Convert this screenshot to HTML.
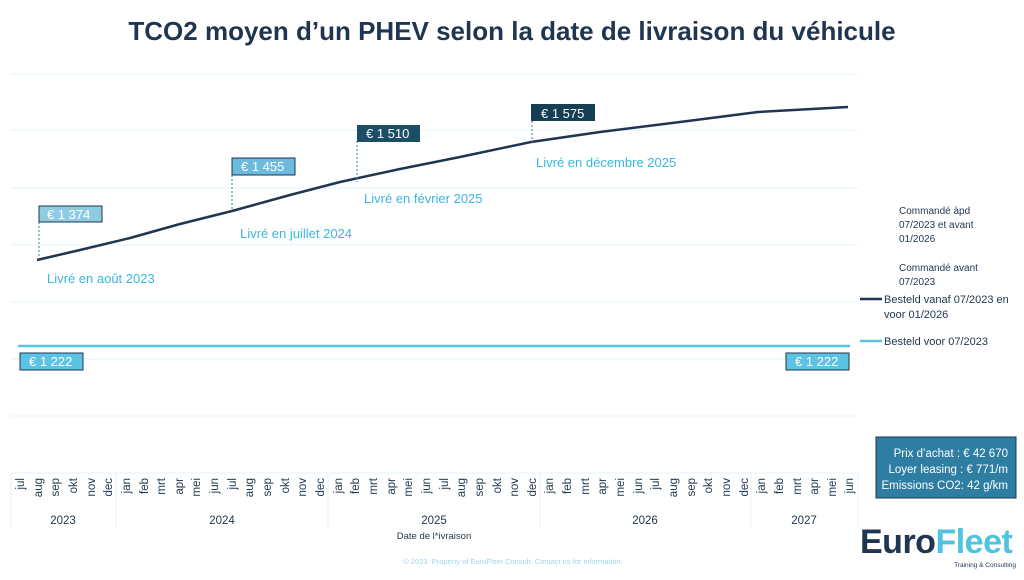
<!DOCTYPE html>
<html><head><meta charset="utf-8"><style>
body{margin:0;background:#fff;width:1024px;height:575px;overflow:hidden;font-family:"Liberation Sans",sans-serif}
</style></head><body>
<svg width="1024" height="575" viewBox="0 0 1024 575" font-family="Liberation Sans, sans-serif">
<text x="512" y="40" text-anchor="middle" font-size="26" font-weight="bold" fill="#1f3550">TCO2 moyen d’un PHEV selon la date de livraison du véhicule</text>
<g stroke="#e6f3fa" stroke-width="1">
<line x1="11" y1="74" x2="858" y2="74"/><line x1="11" y1="130" x2="858" y2="130"/><line x1="11" y1="188" x2="858" y2="188"/><line x1="11" y1="245" x2="858" y2="245"/><line x1="11" y1="302" x2="858" y2="302"/><line x1="11" y1="359" x2="858" y2="359"/><line x1="11" y1="416" x2="858" y2="416"/>
<line x1="11" y1="473" x2="858" y2="473"/>
<line x1="11" y1="473" x2="11" y2="527"/><line x1="116" y1="473" x2="116" y2="527"/><line x1="328" y1="473" x2="328" y2="527"/><line x1="540" y1="473" x2="540" y2="527"/><line x1="751" y1="473" x2="751" y2="527"/><line x1="858" y1="473" x2="858" y2="527"/>
</g>
<line x1="18" y1="346" x2="850" y2="346" stroke="#5bc3e3" stroke-width="2.5"/>
<polyline points="37,260 80,250 130,238 180,224 232,211 290,195 340,182 400,169 460,157 531,142 600,132 680,122 758,112 848,107" fill="none" stroke="#1f3550" stroke-width="2.5"/>
<g stroke="#3a7fa0" stroke-dasharray="2,2" stroke-width="1"><line x1="39" y1="222" x2="39" y2="258"/><line x1="232" y1="175" x2="232" y2="211"/><line x1="357" y1="141" x2="357" y2="182"/><line x1="532" y1="121" x2="532" y2="142"/></g>
<g font-size="13" fill="#fff">
<rect x="39" y="206" width="63" height="16" fill="#8fcbe3" stroke="#1f3550"/><text x="47" y="219">€ 1 374</text>
<rect x="232" y="158" width="63" height="17" fill="#6bbcdc" stroke="#1f3550"/><text x="241" y="171">€ 1 455</text>
<rect x="357" y="125" width="63" height="17" fill="#1c4e68"/><text x="366" y="138">€ 1 510</text>
<rect x="531" y="104" width="64" height="17" fill="#163f55"/><text x="541" y="118">€ 1 575</text>
<rect x="20" y="353" width="63" height="17" fill="#5bc3e3" stroke="#1f3550"/><text x="29" y="366">€ 1 222</text>
<rect x="786" y="353" width="63" height="17" fill="#5bc3e3" stroke="#1f3550"/><text x="795" y="366">€ 1 222</text>
</g>
<g font-size="13" fill="#3bb6dd">
<text x="47" y="283">Livré en août 2023</text>
<text x="240" y="238">Livré en juillet 2024</text>
<text x="364" y="203">Livré en février 2025</text>
<text x="536" y="167">Livré en décembre 2025</text>
</g>
<g font-size="10" fill="#1f3550">
<text x="899" y="214">Commandé àpd</text><text x="899" y="228">07/2023 et avant</text><text x="899" y="242">01/2026</text>
<text x="899" y="271">Commandé avant</text><text x="899" y="285">07/2023</text>
</g>
<line x1="860" y1="299" x2="882" y2="299" stroke="#1f3550" stroke-width="2.5"/>
<line x1="860" y1="341" x2="882" y2="341" stroke="#5bc3e3" stroke-width="2.5"/>
<g font-size="11" fill="#1f3550"><text x="884" y="303">Besteld vanaf 07/2023 en</text><text x="884" y="318">voor 01/2026</text><text x="884" y="345">Besteld voor 07/2023</text></g>
<rect x="876" y="437" width="140" height="61" fill="#2e7ea3" stroke="#1f3550"/>
<g font-size="11.5" fill="#fff" text-anchor="end"><text x="1008" y="457">Prix d’achat : € 42 670</text><text x="1008" y="473">Loyer leasing : € 771/m</text><text x="1008" y="489">Emissions CO2: 42 g/km</text></g>
<g font-size="11.5" fill="#1f3550" text-anchor="end">
<text transform="translate(24,478) rotate(-90)">jul</text>
<text transform="translate(42,478) rotate(-90)">aug</text>
<text transform="translate(59,478) rotate(-90)">sep</text>
<text transform="translate(77,478) rotate(-90)">okt</text>
<text transform="translate(95,478) rotate(-90)">nov</text>
<text transform="translate(112,478) rotate(-90)">dec</text>
<text transform="translate(130,478) rotate(-90)">jan</text>
<text transform="translate(148,478) rotate(-90)">feb</text>
<text transform="translate(165,478) rotate(-90)">mrt</text>
<text transform="translate(183,478) rotate(-90)">apr</text>
<text transform="translate(200,478) rotate(-90)">mei</text>
<text transform="translate(218,478) rotate(-90)">jun</text>
<text transform="translate(236,478) rotate(-90)">jul</text>
<text transform="translate(253,478) rotate(-90)">aug</text>
<text transform="translate(271,478) rotate(-90)">sep</text>
<text transform="translate(289,478) rotate(-90)">okt</text>
<text transform="translate(306,478) rotate(-90)">nov</text>
<text transform="translate(324,478) rotate(-90)">dec</text>
<text transform="translate(342,478) rotate(-90)">jan</text>
<text transform="translate(359,478) rotate(-90)">feb</text>
<text transform="translate(377,478) rotate(-90)">mrt</text>
<text transform="translate(395,478) rotate(-90)">apr</text>
<text transform="translate(412,478) rotate(-90)">mei</text>
<text transform="translate(430,478) rotate(-90)">jun</text>
<text transform="translate(448,478) rotate(-90)">jul</text>
<text transform="translate(465,478) rotate(-90)">aug</text>
<text transform="translate(483,478) rotate(-90)">sep</text>
<text transform="translate(501,478) rotate(-90)">okt</text>
<text transform="translate(518,478) rotate(-90)">nov</text>
<text transform="translate(536,478) rotate(-90)">dec</text>
<text transform="translate(553,478) rotate(-90)">jan</text>
<text transform="translate(571,478) rotate(-90)">feb</text>
<text transform="translate(589,478) rotate(-90)">mrt</text>
<text transform="translate(606,478) rotate(-90)">apr</text>
<text transform="translate(624,478) rotate(-90)">mei</text>
<text transform="translate(642,478) rotate(-90)">jun</text>
<text transform="translate(659,478) rotate(-90)">jul</text>
<text transform="translate(677,478) rotate(-90)">aug</text>
<text transform="translate(695,478) rotate(-90)">sep</text>
<text transform="translate(712,478) rotate(-90)">okt</text>
<text transform="translate(730,478) rotate(-90)">nov</text>
<text transform="translate(748,478) rotate(-90)">dec</text>
<text transform="translate(765,478) rotate(-90)">jan</text>
<text transform="translate(783,478) rotate(-90)">feb</text>
<text transform="translate(801,478) rotate(-90)">mrt</text>
<text transform="translate(818,478) rotate(-90)">apr</text>
<text transform="translate(836,478) rotate(-90)">mei</text>
<text transform="translate(853,478) rotate(-90)">jun</text>
</g>
<g font-size="11.5" fill="#1f3550" text-anchor="middle">
<text x="63" y="524">2023</text><text x="222" y="524">2024</text><text x="434" y="524">2025</text><text x="645" y="524">2026</text><text x="804" y="524">2027</text>
</g>
<text x="434" y="539" font-size="9.5" fill="#1f3550" text-anchor="middle">Date de l*ivraison</text>
<text x="513" y="564" font-size="7.5" fill="#9fd6ea" text-anchor="middle">© 2023. Property of EuroFleet Consult.  Contact us for information.</text>
<text x="860" y="553" font-size="34" font-weight="bold" fill="#1f3550" letter-spacing="-0.5">Euro<tspan fill="#4fc3e0">Fleet</tspan></text>
<text x="1016" y="567" font-size="6.5" fill="#1f3550" text-anchor="end">Training &amp; Consulting</text>
</svg>
</body></html>
